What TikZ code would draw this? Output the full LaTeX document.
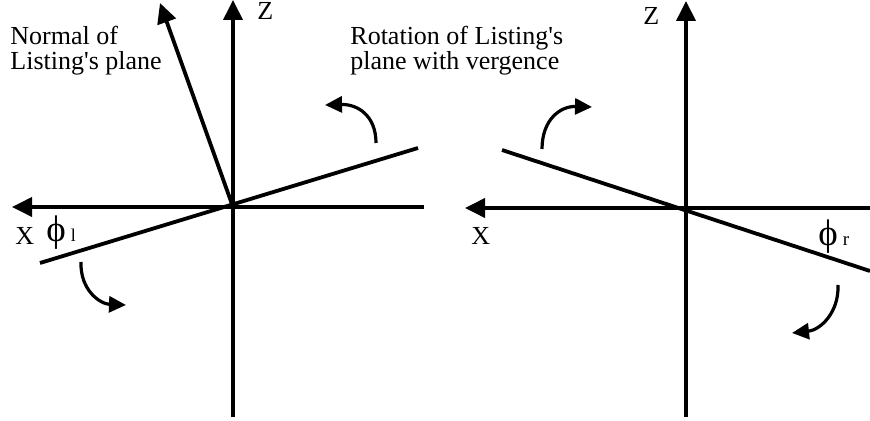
\documentclass[tikz,border=0pt]{standalone}
\usepackage{fontspec}
\setmainfont{Liberation Serif}[Ligatures=TeXOff]
\usetikzlibrary{arrows.meta}
\begin{document}
\begin{tikzpicture}[x=0.5pt,y=-0.5pt,
  axis/.style={line width=1.9pt, -{Triangle[length=10pt,width=9.5pt]}},
  planeline/.style={line width=1.9pt},
  rot/.style={line width=1.6pt, -{Triangle[length=8.5pt,width=8pt]}},
  lbl/.style={inner sep=0pt, anchor=base west, font=\fontsize{13}{13}\selectfont},
  ang/.style={inner sep=0pt, anchor=base west, font=\fontsize{18.5}{18.5}\selectfont}]
\useasboundingbox (0,0) rectangle (870,421);
% ---------- left diagram ----------
\coordinate (O1) at (233,207);
\coordinate (Z1top) at (233,0);
\coordinate (Z1bot) at (233,417);
\coordinate (X1tip) at (12,207);
\coordinate (X1end) at (424,207);
\coordinate (N1tip) at (160,3);
\coordinate (P1a) at (40,263);
\coordinate (P1b) at (418,148);
\coordinate (R1s) at (376,143);
\coordinate (R1t) at (325,105);
\coordinate (R2s) at (81,262);
\coordinate (R2t) at (126,305);
\draw[axis] (Z1bot) -- (Z1top);
\draw[axis] (X1end) -- (X1tip);
\draw[axis] (O1) -- (N1tip);
\draw[planeline] (P1a) -- (P1b);
\draw[rot] (R1s) .. controls (376,116) and (358,104) .. (R1t);
\draw[rot] (R2s) .. controls (80,290) and (100,304) .. (R2t);
\node[lbl] (z1) at (257,20) {Z};
\node[lbl] (x1) at (15,245) {X};
\node[ang] (phil) at (46,242) {ϕ\hspace{2.5pt}{\fontsize{9}{9}\selectfont l}};
\node[lbl] (n1) at (10,45) {Normal of};
\node[lbl] (n2) at (10,70) {Listing's plane};
\node[lbl] (r1) at (350,45) {Rotation of Listing's};
\node[lbl] (r2) at (350,70) {plane with vergence};
% ---------- right diagram ----------
\coordinate (O2) at (686,208);
\coordinate (Z2top) at (686,1);
\coordinate (Z2bot) at (686,417);
\coordinate (X2tip) at (465,208);
\coordinate (X2end) at (870,208);
\coordinate (P2a) at (502,150);
\coordinate (P2b) at (870,271);
\coordinate (R3s) at (542,149);
\coordinate (R3t) at (592,107);
\coordinate (R4s) at (838,285);
\coordinate (R4t) at (792,333);
\draw[axis] (Z2bot) -- (Z2top);
\draw[axis] (X2end) -- (X2tip);
\draw[planeline] (P2a) -- (P2b);
\draw[rot] (R3s) .. controls (542,120) and (560,106) .. (R3t);
\draw[rot] (R4s) .. controls (839,313) and (820,330) .. (R4t);
\node[lbl] (z2) at (643,25) {Z};
\node[lbl] (x2) at (471,245) {X};
\node[ang] (phir) at (818,246) {ϕ\hspace{2.5pt}{\fontsize{9.5}{9.5}\selectfont r}};
\end{tikzpicture}
\end{document}
